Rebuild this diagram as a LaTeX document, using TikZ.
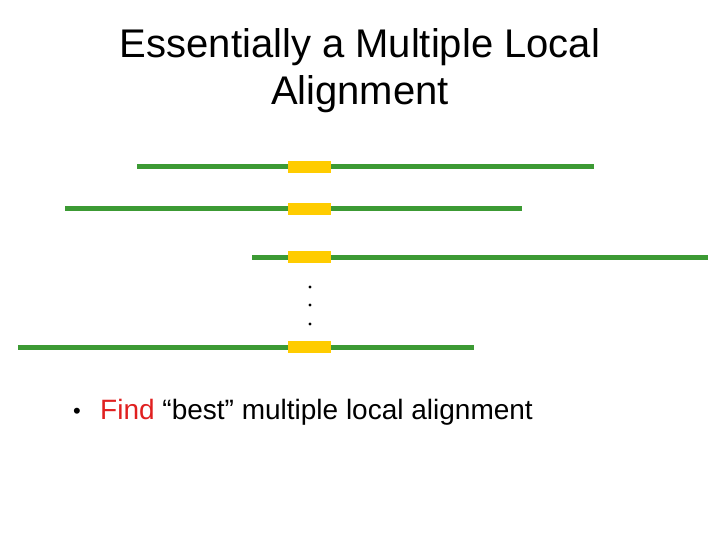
\documentclass[tikz,border=0pt]{standalone}
\usepackage{fontspec}
\setmainfont{Liberation Sans}
\definecolor{grn}{HTML}{3C9A34}
\definecolor{ylw}{HTML}{FFCC00}
\definecolor{redt}{HTML}{E02020}
\begin{document}
\begin{tikzpicture}[x=1pt,y=-1pt,
  seq/.style={draw=grn,line width=5pt},
  blk/.style={fill=ylw,draw=none}]
\useasboundingbox (0,0) rectangle (720,540);
\node (t1) at (360,47) {\fontsize{40}{46}\selectfont Essentially a Multiple Local};
\node (t2) at (360,94) {\fontsize{40}{46}\selectfont Alignment};
\foreach \a/\b/\y/\n in {137/594/167/1,65/522/209/2,252/708/257/3,18/474/347/4}{
  \coordinate (l\n) at (\a,\y); \coordinate (r\n) at (\b,\y);
  \draw[seq] (l\n) -- (r\n);
  \fill[blk] (288,\y-6) rectangle (331,\y+6);
}
\foreach \y/\n in {287/1,305/2,324/3}{\node[fill=black,circle,inner sep=1.1pt] (d\n) at (310,\y) {};}
\node[anchor=west,inner sep=0pt] (bl) at (73,413) {\fontsize{22}{32}\selectfont •};
\node[anchor=west,inner sep=0pt] (b) at (100,412) {\fontsize{28}{32}\selectfont \textcolor{redt}{Find} “best” multiple local alignment};
\end{tikzpicture}
\end{document}
